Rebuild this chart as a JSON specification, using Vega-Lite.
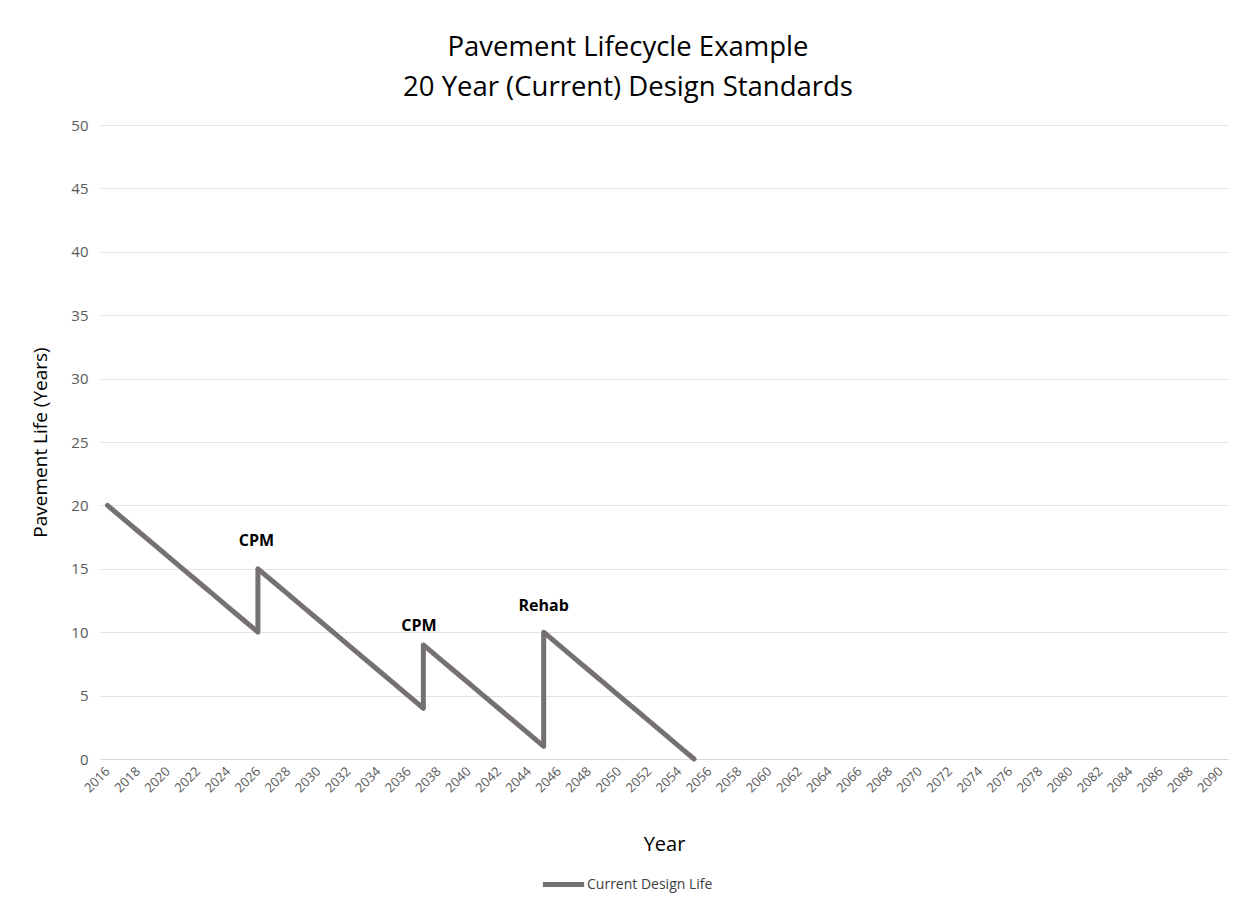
{
  "$schema": "https://vega.github.io/schema/vega-lite/v6.json",
  "width": 1128,
  "height": 634,
  "autosize": {"type": "none"},
  "padding": {"left": 100, "top": 125, "right": 25, "bottom": 150},
  "background": "white",
  "config": {
    "font": "Open Sans",
    "view": {"stroke": null},
    "axisX": {"labelOverlap": false}
  },
  "title": {
    "text": ["Pavement Lifecycle Example", "20 Year (Current) Design Standards"],
    "fontSize": 27.5,
    "font": "Open Sans",
    "fontWeight": "normal",
    "color": "#000000",
    "lineHeight": 40,
    "dx": -36,
    "offset": 17
  },
  "datasets": {
    "life": [
      {"seq": 1, "year": 2016, "life": 20, "series": "Current Design Life"},
      {"seq": 2, "year": 2017, "life": 19, "series": "Current Design Life"},
      {"seq": 3, "year": 2018, "life": 18, "series": "Current Design Life"},
      {"seq": 4, "year": 2019, "life": 17, "series": "Current Design Life"},
      {"seq": 5, "year": 2020, "life": 16, "series": "Current Design Life"},
      {"seq": 6, "year": 2021, "life": 15, "series": "Current Design Life"},
      {"seq": 7, "year": 2022, "life": 14, "series": "Current Design Life"},
      {"seq": 8, "year": 2023, "life": 13, "series": "Current Design Life"},
      {"seq": 9, "year": 2024, "life": 12, "series": "Current Design Life"},
      {"seq": 10, "year": 2025, "life": 11, "series": "Current Design Life"},
      {"seq": 11, "year": 2026, "life": 10, "series": "Current Design Life"},
      {"seq": 12, "year": 2026, "life": 15, "series": "Current Design Life"},
      {"seq": 13, "year": 2027, "life": 14, "series": "Current Design Life"},
      {"seq": 14, "year": 2028, "life": 13, "series": "Current Design Life"},
      {"seq": 15, "year": 2029, "life": 12, "series": "Current Design Life"},
      {"seq": 16, "year": 2030, "life": 11, "series": "Current Design Life"},
      {"seq": 17, "year": 2031, "life": 10, "series": "Current Design Life"},
      {"seq": 18, "year": 2032, "life": 9, "series": "Current Design Life"},
      {"seq": 19, "year": 2033, "life": 8, "series": "Current Design Life"},
      {"seq": 20, "year": 2034, "life": 7, "series": "Current Design Life"},
      {"seq": 21, "year": 2035, "life": 6, "series": "Current Design Life"},
      {"seq": 22, "year": 2036, "life": 5, "series": "Current Design Life"},
      {"seq": 23, "year": 2037, "life": 4, "series": "Current Design Life"},
      {"seq": 24, "year": 2037, "life": 9, "series": "Current Design Life"},
      {"seq": 25, "year": 2038, "life": 8, "series": "Current Design Life"},
      {"seq": 26, "year": 2039, "life": 7, "series": "Current Design Life"},
      {"seq": 27, "year": 2040, "life": 6, "series": "Current Design Life"},
      {"seq": 28, "year": 2041, "life": 5, "series": "Current Design Life"},
      {"seq": 29, "year": 2042, "life": 4, "series": "Current Design Life"},
      {"seq": 30, "year": 2043, "life": 3, "series": "Current Design Life"},
      {"seq": 31, "year": 2044, "life": 2, "series": "Current Design Life"},
      {"seq": 32, "year": 2045, "life": 1, "series": "Current Design Life"},
      {"seq": 33, "year": 2045, "life": 10, "series": "Current Design Life"},
      {"seq": 34, "year": 2046, "life": 9, "series": "Current Design Life"},
      {"seq": 35, "year": 2047, "life": 8, "series": "Current Design Life"},
      {"seq": 36, "year": 2048, "life": 7, "series": "Current Design Life"},
      {"seq": 37, "year": 2049, "life": 6, "series": "Current Design Life"},
      {"seq": 38, "year": 2050, "life": 5, "series": "Current Design Life"},
      {"seq": 39, "year": 2051, "life": 4, "series": "Current Design Life"},
      {"seq": 40, "year": 2052, "life": 3, "series": "Current Design Life"},
      {"seq": 41, "year": 2053, "life": 2, "series": "Current Design Life"},
      {"seq": 42, "year": 2054, "life": 1, "series": "Current Design Life"},
      {"seq": 43, "year": 2055, "life": 0, "series": "Current Design Life"}
    ],
    "notes": [
      {"year": 2025.9, "life": 17.2, "label": "CPM"},
      {"year": 2036.7, "life": 10.5, "label": "CPM"},
      {"year": 2045.0, "life": 12.1, "label": "Rehab"}
    ]
  },
  "encoding": {
    "x": {
      "field": "year",
      "type": "quantitative",
      "scale": {"domain": [2015.5, 2090.5], "nice": false, "zero": false},
      "axis": {
        "title": "Year",
        "titleFontSize": 20,
        "titleFontWeight": "normal",
        "titleColor": "#000000",
        "titlePadding": 40,
        "values": [2016,2018,2020,2022,2024,2026,2028,2030,2032,2034,2036,2038,2040,2042,2044,2046,2048,2050,2052,2054,2056,2058,2060,2062,2064,2066,2068,2070,2072,2074,2076,2078,2080,2082,2084,2086,2088,2090],
        "format": "d",
        "labelAngle": -45,
        "labelAlign": "right",
        "labelBaseline": "middle",
        "labelFontSize": 13,
        "labelColor": "#595959",
        "labelPadding": 10,
        "labelOverlap": false,
        "labelBound": false,
        "ticks": false,
        "grid": false,
        "domain": true,
        "domainColor": "#d9d9d9",
        "domainWidth": 1
      }
    },
    "y": {
      "field": "life",
      "type": "quantitative",
      "scale": {"domain": [0, 50], "nice": false},
      "axis": {
        "title": "Pavement Life (Years)",
        "titleFontSize": 19,
        "titleFontWeight": "normal",
        "titleColor": "#000000",
        "titlePadding": 20,
        "values": [0, 5, 10, 15, 20, 25, 30, 35, 40, 45, 50],
        "labelFontSize": 15,
        "labelColor": "#595959",
        "labelPadding": 12,
        "ticks": false,
        "domain": false,
        "grid": true,
        "gridColor": "#e3e3e3",
        "gridWidth": 1
      }
    }
  },
  "layer": [
    {
      "data": {"name": "life"},
      "mark": {"type": "line", "strokeWidth": 5, "strokeCap": "round", "strokeJoin": "round"},
      "encoding": {
        "order": {"field": "seq", "type": "quantitative"},
        "color": {
          "field": "series",
          "type": "nominal",
          "scale": {"range": ["#767171"]},
          "legend": {
            "title": null,
            "orient": "none",
            "legendX": 440,
            "legendY": 736,
            "symbolType": "stroke",
            "symbolStrokeWidth": 5,
            "symbolSize": 1700,
            "labelFontSize": 14,
            "labelColor": "#404040",
            "labelOffset": 0
          }
        }
      }
    },
    {
      "data": {"name": "notes"},
      "mark": {"type": "text", "fontSize": 16, "fontWeight": "bold", "color": "#000000", "font": "Open Sans"},
      "encoding": {
        "text": {"field": "label"}
      }
    }
  ]
}
